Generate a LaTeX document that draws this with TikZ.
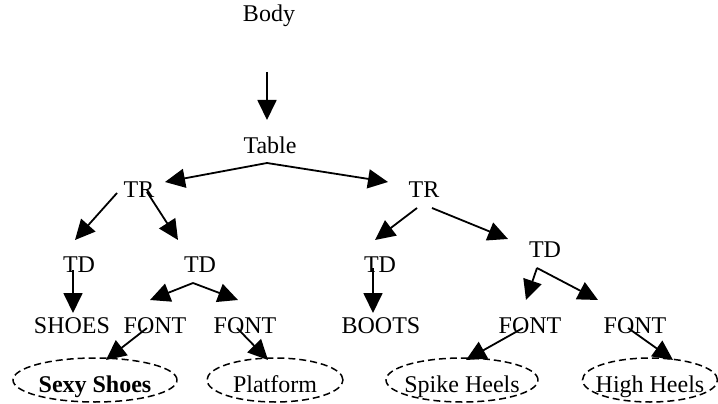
\documentclass[tikz,border=0pt]{standalone}
\usepackage{fontspec}
\setmainfont{Liberation Serif}
\usetikzlibrary{arrows.meta,shapes.geometric}
\newcommand{\zw}[1]{\makebox[0pt][c]{#1}}
\begin{document}
\begin{tikzpicture}[x=1pt,y=-1pt,
  lbl/.style={inner sep=0pt,anchor=base,font=\fontsize{24}{28}\selectfont},
  edge/.style={line width=1.8pt,-{Triangle[length=20pt,width=19pt]}},
  leaf/.style={draw,shape=ellipse,line width=1.5pt,dash pattern=on 7pt off 4pt,
    inner sep=0pt,minimum height=44pt,text height=24pt,text depth=0pt,
    font=\fontsize{24}{28}\selectfont}]
\useasboundingbox (0,0) rectangle (718,404);
% labels
\node[lbl] (body) at (269,22) {Body};
\node[lbl] (table) at (270,153) {Table};
\node[lbl] (tr1) at (139,197) {TR};
\node[lbl] (tr2) at (424,197) {TR};
\node[lbl] (td1) at (79,272) {TD};
\node[lbl] (td2) at (200,272) {TD};
\node[lbl] (td3) at (380,272) {TD};
\node[lbl] (td4) at (545,257) {TD};
\node[lbl] (shoes) at (72,333) {SHOES};
\node[lbl] (font1) at (155,333) {FONT};
\node[lbl] (font2) at (245,333) {FONT};
\node[lbl] (boots) at (381,333) {BOOTS};
\node[lbl] (font3) at (530,333) {FONT};
\node[lbl] (font4) at (635,333) {FONT};
% leaves
\node[leaf,minimum width=164pt] (ss) at (95,380) {\zw{\bfseries Sexy Shoes}};
\node[leaf,minimum width=136pt] (pf) at (275,380) {\zw{Platform}};
\node[leaf,minimum width=152pt] (sh) at (462,380) {\zw{Spike Heels}};
\node[leaf,minimum width=135pt] (hh) at (650,380) {\zw{High Heels}};
% connector end points
\coordinate (body-s) at (267,72);  \coordinate (table-n) at (267,120);
\coordinate (table-s) at (267,163);
\coordinate (tr1-e) at (165,182);  \coordinate (tr2-w) at (388,182);
\coordinate (tr1-sw) at (117,193); \coordinate (tr1-se) at (147,192);
\coordinate (td1-n) at (75,240);   \coordinate (td2-n) at (178,240);
\coordinate (td1-s) at (73,270);   \coordinate (shoes-n) at (73,313);
\coordinate (td2-s) at (193,283);
\coordinate (font1-n) at (150,300); \coordinate (font2-n) at (238,300);
\coordinate (font1-s) at (147,328); \coordinate (ss-n) at (106,360);
\coordinate (font2-s) at (237,328); \coordinate (pf-n) at (268,360);
\coordinate (tr2-sw) at (417,208); \coordinate (tr2-se) at (432,208);
\coordinate (td3-n) at (375,240);  \coordinate (td4-n) at (508,239);
\coordinate (td3-s) at (373,268);  \coordinate (boots-n) at (373,313);
\coordinate (td4-s) at (537,268);
\coordinate (font3-n) at (526,300); \coordinate (font4-n) at (598,300);
\coordinate (font3-s) at (523,328); \coordinate (sh-n) at (466,360);
\coordinate (font4-s) at (628,328); \coordinate (hh-n) at (673,360);
% connectors
\draw[edge] (body-s) -- (table-n);
\draw[edge] (table-s) -- (tr1-e);
\draw[edge] (table-s) -- (tr2-w);
\draw[edge] (tr1-sw) -- (td1-n);
\draw[edge] (tr1-se) -- (td2-n);
\draw[edge] (td1-s) -- (shoes-n);
\draw[edge] (td2-s) -- (font1-n);
\draw[edge] (td2-s) -- (font2-n);
\draw[edge] (font1-s) -- (ss-n);
\draw[edge] (font2-s) -- (pf-n);
\draw[edge] (tr2-sw) -- (td3-n);
\draw[edge] (tr2-se) -- (td4-n);
\draw[edge] (td3-s) -- (boots-n);
\draw[edge] (td4-s) -- (font3-n);
\draw[edge] (td4-s) -- (font4-n);
\draw[edge] (font3-s) -- (sh-n);
\draw[edge] (font4-s) -- (hh-n);
\end{tikzpicture}
\end{document}
